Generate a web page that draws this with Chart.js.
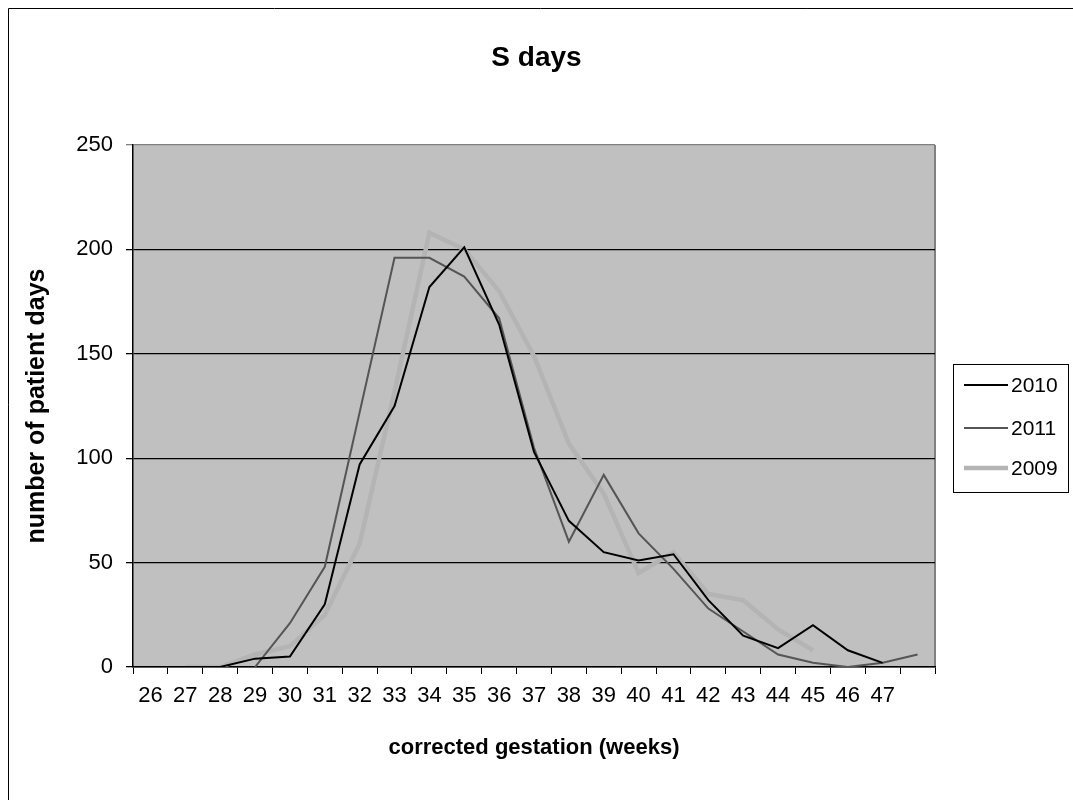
<!DOCTYPE html>
<html>
<head>
<meta charset="utf-8">
<script src="https://cdn.jsdelivr.net/npm/chart.js@4/dist/chart.umd.min.js"></script>
<style>
  body { margin: 0; background: #fff; }
</style>
</head>
<body>
<canvas id="myChart" width="1073" height="800"></canvas>
<script>
const weeks = ["26","27","28","29","30","31","32","33","34","35","36","37","38","39","40","41","42","43","44","45","46","47",""];

const days2010 = [0,0,0,4,5,30,97,125,182,201,164,103,70,55,51,54,32,15,9,20,8,2,null];
const days2011 = [null,null,null,0,21,48,122,196,196,187,167,105,60,92,64,47,28,17,6,2,0,2,6];
const days2009 = [null,0,0,6,10,25,59,132,208,200,180,149,107,83,45,55,35,32,18,8,null,null,null];

const yTicks = [0,50,100,150,200,250];

Chart.defaults.font.family = "Arial, 'Liberation Sans', sans-serif";
Chart.defaults.color = "#000";

// grey plot background + right frame line
const plotBg = {
  id: "plotBg",
  beforeDraw: (chart) => {
    const { ctx, chartArea: a } = chart;
    ctx.save();
    ctx.fillStyle = "#c0c0c0";
    ctx.fillRect(a.left, a.top, a.right - a.left, a.bottom - a.top);
    ctx.strokeStyle = "#808080";
    ctx.lineWidth = 2;
    ctx.beginPath();
    ctx.moveTo(a.right, a.top);
    ctx.lineTo(a.right, a.bottom);
    ctx.stroke();
    // outer frame of the picture
    ctx.strokeStyle = "#000";
    ctx.lineWidth = 1;
    ctx.beginPath();
    ctx.moveTo(8.5, 800);
    ctx.lineTo(8.5, 8.5);
    ctx.lineTo(1073, 8.5);
    ctx.stroke();
    ctx.restore();
  },
};

// legend in a box on the right, like excel
const boxLegend = {
  id: "boxLegend",
  afterDraw: (chart) => {
    const ctx = chart.ctx;
    const rows = [385, 428, 468];
    ctx.save();
    ctx.strokeStyle = "#000";
    ctx.lineWidth = 1;
    ctx.strokeRect(953.5, 364.5, 115, 128);
    ctx.font = "21px Arial, 'Liberation Sans', sans-serif";
    ctx.textBaseline = "middle";
    ctx.fillStyle = "#000";
    chart.data.datasets.forEach((ds, i) => {
      ctx.strokeStyle = ds.borderColor;
      ctx.lineWidth = ds.borderWidth;
      ctx.beginPath();
      ctx.moveTo(964, rows[i]);
      ctx.lineTo(1008, rows[i]);
      ctx.stroke();
      ctx.fillText(ds.label, 1011, rows[i] + 1);
    });
    ctx.restore();
  },
};

const ctx = document.getElementById("myChart");

new Chart(ctx, {
  type: "line",
  data: {
    labels: weeks,
    datasets: [
      { label: "2010", data: days2010, borderColor: "#000000", borderWidth: 2 },
      { label: "2011", data: days2011, borderColor: "#555555", borderWidth: 2 },
      { label: "2009", data: days2009, borderColor: "#b4b4b4", borderWidth: 4.5 },
    ],
  },
  options: {
    responsive: false,
    animation: false,
    elements: { point: { radius: 0 }, line: { tension: 0 } },
    layout: { padding: 0 },
    plugins: {
      legend: { display: false },
      tooltip: { enabled: false },
      title: {
        display: true,
        text: "S days",
        font: { size: 28, weight: "bold" },
        color: "#000",
        padding: { top: 41, bottom: 70.4 },
      },
    },
    scales: {
      x: {
        type: "category",
        offset: true,
        afterFit: (scale) => { scale.height = 133; },
        grid: {
          offset: true,
          drawOnChartArea: false,
          drawTicks: true,
          tickLength: 7,
          color: "#000",
        },
        border: { color: "#000", width: 1.5 },
        ticks: { autoSkip: false, maxRotation: 0, padding: 9, font: { size: 22 } },
        title: {
          display: true,
          text: "corrected gestation (weeks)",
          font: { size: 22, weight: "bold" },
          padding: { top: 0, bottom: 39 },
        },
      },
      y: {
        min: 0,
        max: 250,
        afterFit: (scale) => { scale.width = 133; },
        afterBuildTicks: (scale) => { scale.ticks = yTicks.map((v) => ({ value: v })); },
        grid: {
          color: (c) => (c.tick && c.tick.value === 250 ? "#808080" : "#000"),
          lineWidth: 1.3,
          tickLength: 7,
        },
        border: { color: "#000", width: 1.5 },
        ticks: { padding: 13, font: { size: 22 } },
        title: {
          display: true,
          text: "number of patient days",
          font: { size: 25, weight: "bold" },
          padding: { top: 22, bottom: 0 },
        },
      },
      // empty right scale, only keeps room for the legend box
      side: {
        position: "right",
        display: true,
        afterFit: (scale) => { scale.width = 138; },
        grid: { display: false },
        border: { display: false },
        ticks: { display: false },
      },
    },
  },
  plugins: [plotBg, boxLegend],
});
</script>
</body>
</html>
